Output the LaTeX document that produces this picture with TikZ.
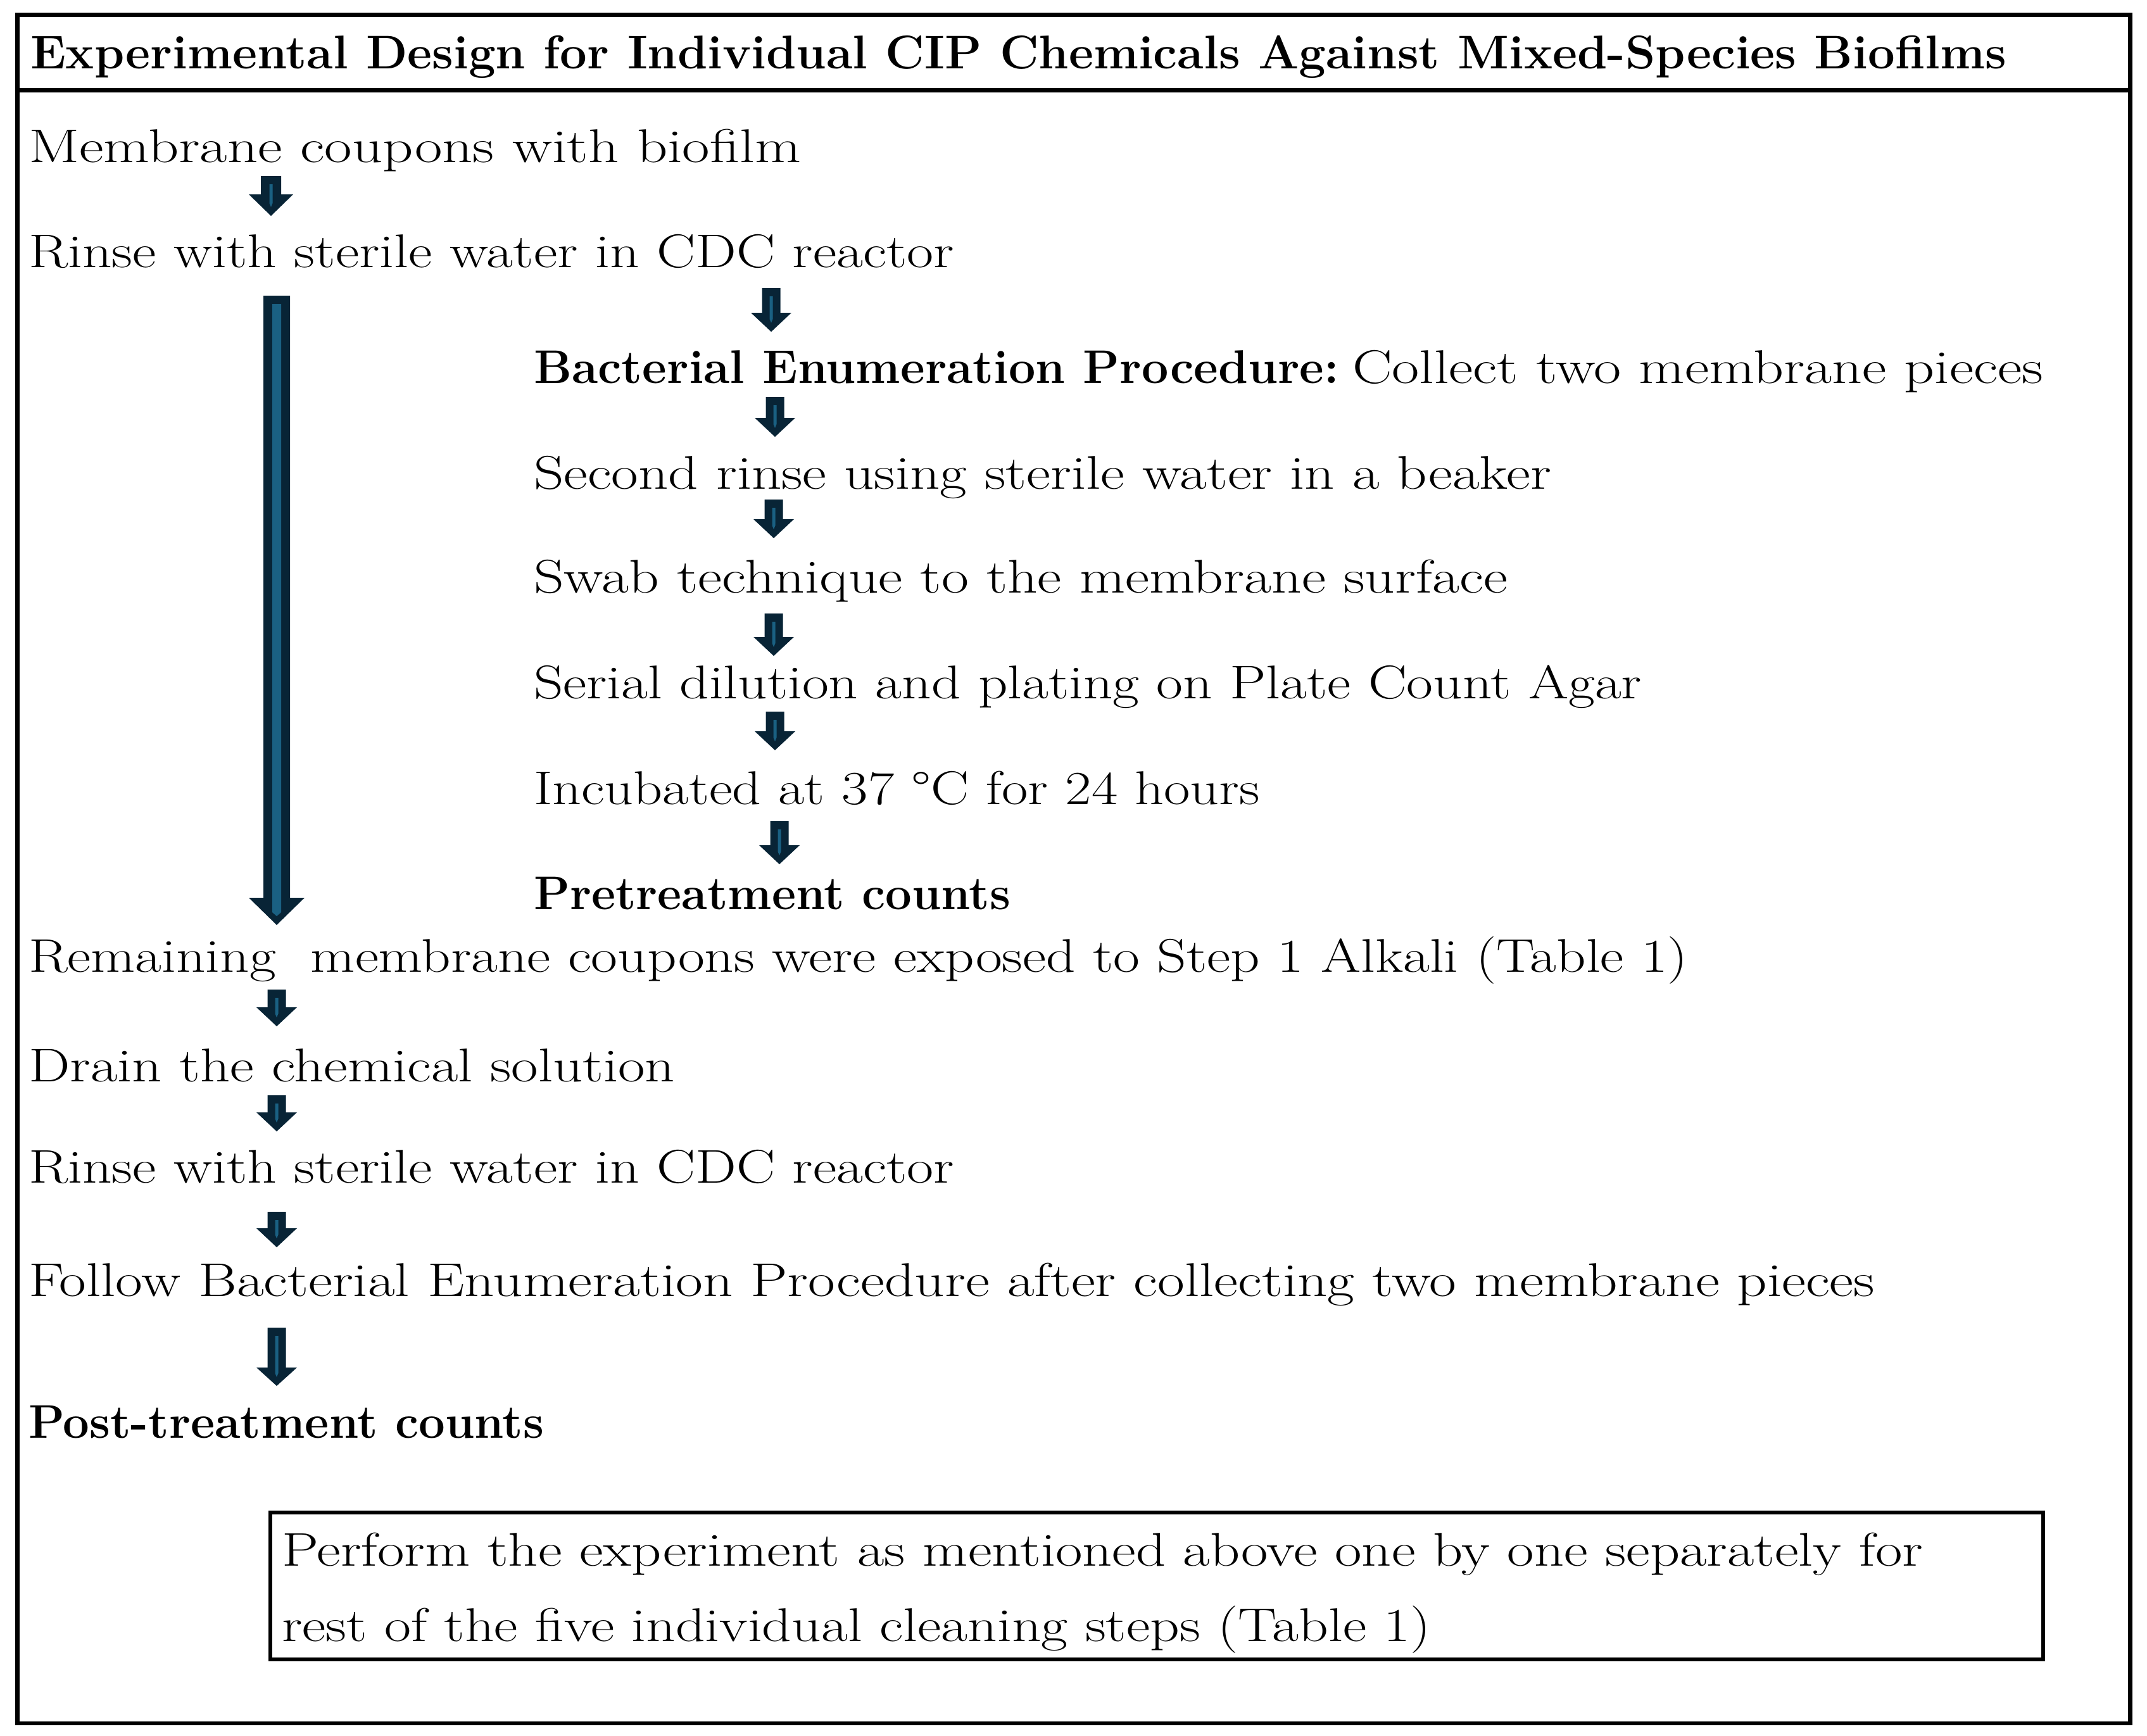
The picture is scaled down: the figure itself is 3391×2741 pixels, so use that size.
\documentclass[tikz,border=0pt]{standalone}
\usepackage{fontspec}
\usepackage{graphicx}
\usetikzlibrary{calc}
\newlength\pxu
\setlength\pxu{0.01cm}
\newcommand\tw[2]{\resizebox{#1\pxu}{\height}{#2}}
\definecolor{adark}{RGB}{8,36,54}
\definecolor{alight}{RGB}{26,96,130}
% block arrow: #1 start coord, #2 tip coord, #3 shaft width, #4 head width, #5 head length, #6 inner line width
\newcommand\blk[6]{%
  \fill[adark] ($(#1)+(-#3/2,0)$) -- ($(#1)+(#3/2,0)$) -- ($(#2)+(#3/2,-#5)$) -- ($(#2)+(#4/2,-#5)$) -- (#2) -- ($(#2)+(-#4/2,-#5)$) -- ($(#2)+(-#3/2,-#5)$) -- cycle;
  \fill[alight] ($(#1)+(-#6/2,13)$) -- ($(#1)+(#6/2,13)$) -- ($(#2)+(#6/2,-20)$) -- ($(#2)+(0,-14)$) -- ($(#2)+(-#6/2,-20)$) -- cycle;}
\begin{document}
\begin{tikzpicture}[x=0.01cm,y=-0.01cm,
  txt/.style={anchor=base west, inner sep=0pt, outer sep=0pt, font=\fontsize{21.25pt}{25pt}\selectfont},
  frame/.style={draw=black, line width=0.065cm}]
\useasboundingbox (0,0) rectangle (3391,2741);
% frames
\draw[frame] (27.5,23.7) rectangle (3364.5,2722);
\draw[frame] (27.5,142.5) -- (3364.5,142.5);
\draw[frame] (427,2389) rectangle (3227,2621);
% texts
\node[txt] (title) at (48,108) {\tw{3121}{\bfseries Experimental Design for Individual CIP Chemicals Against Mixed-Species Biofilms}};
\node[txt] (m1) at (45,256) {\tw{1220}{Membrane coupons with biofilm}};
\node[txt] (m2) at (45,422) {\tw{1462}{Rinse with sterile water in CDC reactor}};
\node[txt] (b0) at (843,605) {\tw{1272}{\bfseries Bacterial Enumeration Procedure:}};
\node[txt] (b0b) at (2136,605) {\tw{1091}{Collect two membrane pieces}};
\node[txt] (b1) at (843,772) {\tw{1607}{Second rinse using sterile water in a beaker}};
\node[txt] (b2) at (843,936) {\tw{1538}{Swab technique to the membrane surface}};
\node[txt] (b3) at (843,1103) {\tw{1750}{Serial dilution and plating on Plate Count Agar}};
\node[txt] (b4) at (843,1270) {\tw{1147}{Incubated at 37 °C for 24 hours}};
\node[txt] (b5) at (843,1436) {\tw{753}{\bfseries Pretreatment counts}};
\node[txt] (r1) at (45,1535) {\tw{2621}{Remaining~ membrane coupons were exposed to Step 1 Alkali (Table 1)}};
\node[txt] (r2) at (45,1708) {\tw{1021}{Drain the chemical solution}};
\node[txt] (r3) at (45,1868) {\tw{1462}{Rinse with sterile water in CDC reactor}};
\node[txt] (r4) at (45,2047) {\tw{2916}{Follow Bacterial Enumeration Procedure after collecting two membrane pieces}};
\node[txt] (r5) at (45,2271) {\tw{814}{\bfseries Post-treatment counts}};
\node[txt] (p1) at (445,2473) {\tw{2592}{Perform the experiment as mentioned above one by one separately for}};
\node[txt] (p2) at (445,2592) {\tw{1815}{rest of the five individual cleaning steps (Table 1)}};
% arrow end points
\coordinate (a1s) at (428,278);   \coordinate (a1e) at (428,341);
\coordinate (bigs) at (437,467);  \coordinate (bige) at (437,1461);
\coordinate (aAs) at (1218,455);  \coordinate (aAe) at (1218,524);
\coordinate (aBs) at (1224,627);  \coordinate (aBe) at (1224,690);
\coordinate (aCs) at (1222,789);  \coordinate (aCe) at (1222,850);
\coordinate (aDs) at (1222,969);  \coordinate (aDe) at (1222,1036);
\coordinate (aEs) at (1224,1124); \coordinate (aEe) at (1224,1185);
\coordinate (aFs) at (1231,1297); \coordinate (aFe) at (1231,1365);
\coordinate (a2s) at (437,1563);  \coordinate (a2e) at (437,1621);
\coordinate (a3s) at (437,1730);  \coordinate (a3e) at (437,1787);
\coordinate (a4s) at (437,1914);  \coordinate (a4e) at (437,1970);
\coordinate (a5s) at (437,2097);  \coordinate (a5e) at (437,2189);
% arrows
\blk{a1s}{a1e}{32}{70}{34}{5}
\blk{bigs}{bige}{42}{88}{43}{14}
\blk{aAs}{aAe}{29}{64}{30}{5}
\blk{aBs}{aBe}{29}{64}{30}{5}
\blk{aCs}{aCe}{29}{64}{30}{5}
\blk{aDs}{aDe}{29}{64}{30}{5}
\blk{aEs}{aEe}{29}{64}{30}{5}
\blk{aFs}{aFe}{29}{64}{30}{5}
\blk{a2s}{a2e}{29}{64}{30}{5}
\blk{a3s}{a3e}{29}{64}{30}{5}
\blk{a4s}{a4e}{29}{64}{30}{5}
\blk{a5s}{a5e}{29}{64}{29}{5}
\end{tikzpicture}
\end{document}
